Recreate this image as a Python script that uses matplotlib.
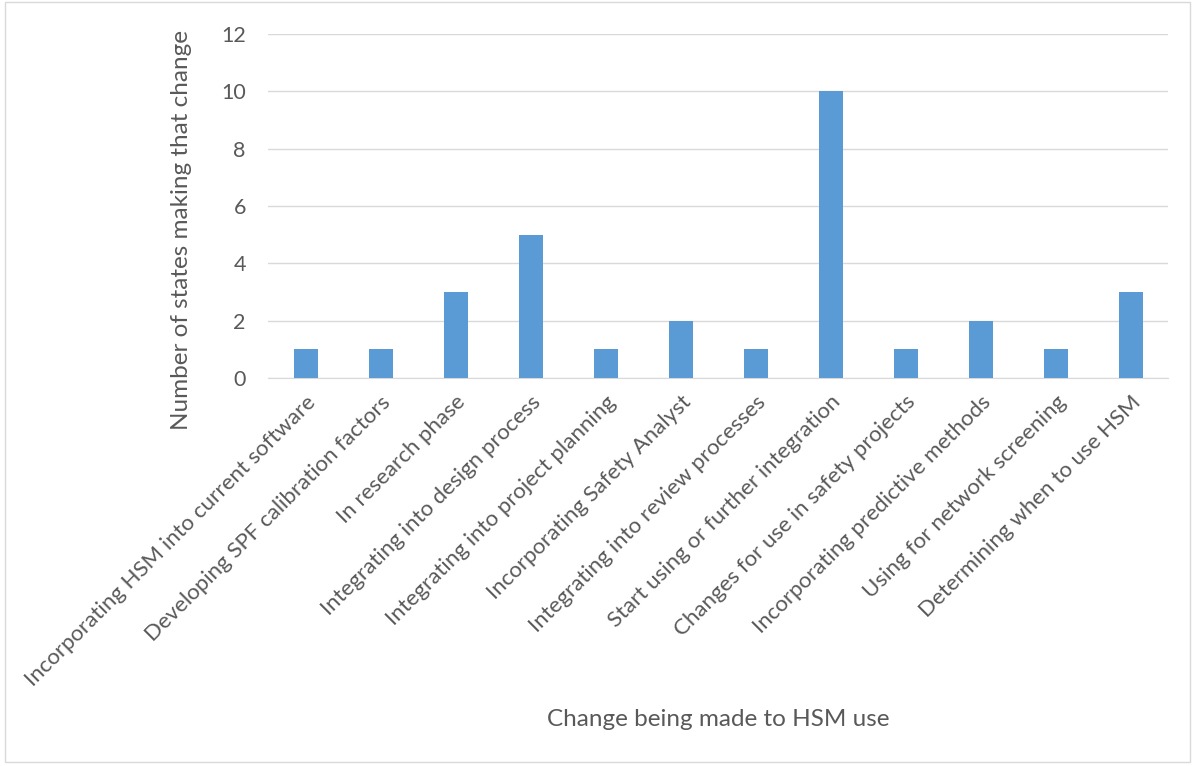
import matplotlib.pyplot as plt
from matplotlib.patches import Rectangle
import numpy as np

categories = [
    "Incorporating HSM into current software",
    "Developing SPF calibration factors",
    "In research phase",
    "Integrating into design process",
    "Integrating into project planning",
    "Incorporating Safety Analyst",
    "Integrating into review processes",
    "Start using or further integration",
    "Changes for use in safety projects",
    "Incorporating predictive methods",
    "Using for network screening",
    "Determining when to use HSM",
]
values = [1, 1, 3, 5, 1, 2, 1, 10, 1, 2, 1, 3]
yticks = [0, 2, 4, 6, 8, 10, 12]

plt.rcParams['font.family'] = ['Lato', 'DejaVu Sans']
text_color = '#595959'

fig = plt.figure(figsize=(11.95, 7.66), dpi=100)
ax = fig.add_axes([268/1195, 1 - 378/766, 900/1195, (378 - 34)/766])

x = np.arange(len(categories))
ax.bar(x, values, width=0.32, color='#5B9BD5', zorder=3)
ax.set_xlim(-0.5, len(categories) - 0.5)
ax.set_ylim(0, 12)
ax.set_yticks(yticks)
ax.set_yticklabels([str(v) for v in yticks], fontsize=15.5, color=text_color)
ax.yaxis.grid(True, color='#D9D9D9', linewidth=1, zorder=0)
ax.set_xticks(x)
ax.set_xticklabels(categories, rotation=45, ha='right', rotation_mode='anchor',
                   fontsize=16, color=text_color)
ax.tick_params(axis='both', length=0, pad=10)
ax.tick_params(axis='y', pad=16)
for s in ['top', 'right', 'left']:
    ax.spines[s].set_visible(False)
ax.spines['bottom'].set_color('#D9D9D9')

fig.text(181/1195, 1 - 230/766, "Number of states making that change", rotation=90,
         ha='center', va='center', fontsize=17.5, color=text_color)
fig.text(718/1195, 1 - 720/766, "Change being made to HSM use",
         ha='center', va='center', fontsize=17.5, color=text_color)

fig.patches.append(Rectangle((5/1195, 4/766), 1185/1195, 760/766, transform=fig.transFigure,
                             fill=False, edgecolor='#D9D9D9', linewidth=1))

fig.savefig('out.png', dpi=100)
